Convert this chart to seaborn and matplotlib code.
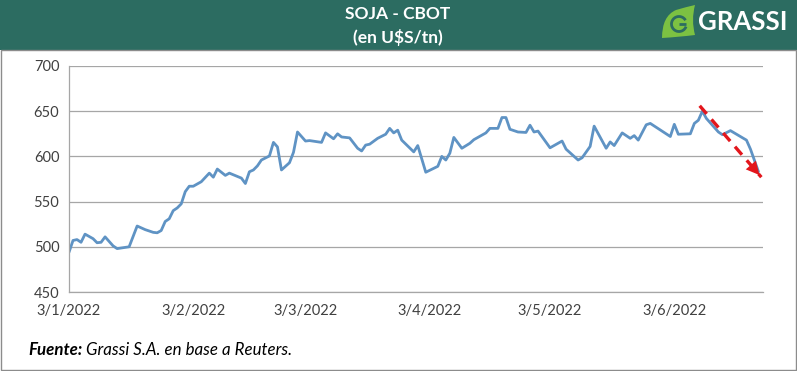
import pandas as pd
import matplotlib.pyplot as plt
from matplotlib.patches import Rectangle, PathPatch, Arc
from matplotlib.path import Path
import seaborn as sns

# precio soja CBOT (U$S/tn)
dates = [
    "2022-01-03", "2022-01-04", "2022-01-05", "2022-01-06", "2022-01-07", "2022-01-09",
    "2022-01-10", "2022-01-11", "2022-01-12", "2022-01-14", "2022-01-15", "2022-01-18",
    "2022-01-20", "2022-01-22", "2022-01-24", "2022-01-25", "2022-01-26", "2022-01-27",
    "2022-01-28", "2022-01-29", "2022-01-30", "2022-01-31",
    "2022-02-01", "2022-02-02", "2022-02-03", "2022-02-05", "2022-02-07", "2022-02-08",
    "2022-02-09", "2022-02-11", "2022-02-12", "2022-02-15", "2022-02-16", "2022-02-17",
    "2022-02-18", "2022-02-19", "2022-02-20", "2022-02-22", "2022-02-23", "2022-02-24",
    "2022-02-25", "2022-02-27", "2022-02-28",
    "2022-03-01", "2022-03-03", "2022-03-04", "2022-03-07", "2022-03-08", "2022-03-10",
    "2022-03-11", "2022-03-12", "2022-03-14", "2022-03-16", "2022-03-17", "2022-03-18",
    "2022-03-19", "2022-03-21", "2022-03-23", "2022-03-24", "2022-03-25", "2022-03-26",
    "2022-03-27", "2022-03-30", "2022-03-31",
    "2022-04-02", "2022-04-05", "2022-04-06", "2022-04-07", "2022-04-08", "2022-04-09",
    "2022-04-11", "2022-04-13", "2022-04-14", "2022-04-17", "2022-04-18", "2022-04-20",
    "2022-04-21", "2022-04-22", "2022-04-23", "2022-04-25", "2022-04-27", "2022-04-28",
    "2022-04-29", "2022-04-30",
    "2022-05-03", "2022-05-06", "2022-05-07", "2022-05-10", "2022-05-11", "2022-05-13",
    "2022-05-14", "2022-05-17", "2022-05-18", "2022-05-19", "2022-05-21", "2022-05-23",
    "2022-05-24", "2022-05-25", "2022-05-27", "2022-05-28",
    "2022-06-02", "2022-06-03", "2022-06-04", "2022-06-07", "2022-06-08", "2022-06-09",
    "2022-06-10", "2022-06-11", "2022-06-14", "2022-06-15", "2022-06-17", "2022-06-21",
    "2022-06-22", "2022-06-24",
]
soja = [
    494, 507, 508, 505, 514, 509, 504.5, 505, 511, 501,
    498, 500, 523, 519, 516, 515.5, 518, 528, 531, 540,
    543, 547.5, 561, 567, 567, 572, 581.5, 577, 586, 579,
    581.5, 576, 570, 583, 585, 589.5, 596, 600.5, 615.5, 610.5,
    585, 593, 604.5, 627, 617, 617.5, 615.5, 626, 619.5, 625,
    621.5, 620.5, 609, 606, 612.5, 613.5, 620, 624.5, 631, 626,
    629, 618, 605, 612, 582.5, 589, 600, 596, 603.5, 621,
    609, 614.5, 618.5, 626, 631, 631, 643, 643, 630, 627,
    626.5, 634.5, 627, 628, 609.5, 617, 608, 596, 598.5, 611,
    633.5, 609, 616, 612, 626, 620, 623, 618, 635, 636.5,
    622, 635.5, 624.5, 625, 636.5, 640, 650, 642, 627, 624,
    628.5, 618, 608, 583,
]
tick_dates = ["2022-01-03", "2022-02-03", "2022-03-03", "2022-04-03", "2022-05-03", "2022-06-03"]
y_ticks = [450, 500, 550, 600, 650, 700]

# flecha de tendencia (fecha, precio)
trend_start = ("2022-06-09 08:00", 656)
trend_end = ("2022-06-24 17:00", 577)

GREEN = "#2c6c61"
LEAF = "#7cc142"
BLUE = "#5f93c4"
RED = "#e3161c"
GRAY = "#a6a6a6"
TXT = "#404040"

df = pd.DataFrame({"fecha": pd.to_datetime(dates), "precio": soja})

sns.set_style("white")
plt.rcParams["font.family"] = ["Lato", "DejaVu Sans"]

W, H = 797, 371
fig = plt.figure(figsize=(W / 100, H / 100), dpi=100)

# fondo: banda verde, marco y textos (coordenadas en pixeles)
bg = fig.add_axes([0, 0, 1, 1])
bg.set_xlim(0, W)
bg.set_ylim(H, 0)
bg.axis("off")
bg.add_patch(Rectangle((0, 0), W, 50, color=GREEN, lw=0))
bg.add_patch(Rectangle((0.5, 50), W - 1.5, H - 51.5, fill=False, ec="#8c8c8c", lw=1))
bg.text(398, 14, "SOJA - CBOT", color="white", fontsize=12.5, fontweight="bold",
        ha="center", va="center")
bg.text(398, 37, "(en U$S/tn)", color="white", fontsize=12.5, fontweight="bold",
        ha="center", va="center")

# logo
leaf = Path(
    [(695, 5), (691, 20), (695, 35), (679, 37), (662, 38), (662, 16), (676, 10), (686, 7), (695, 5)],
    [Path.MOVETO, Path.CURVE3, Path.CURVE3, Path.CURVE3, Path.CURVE3,
     Path.CURVE3, Path.CURVE3, Path.CURVE3, Path.CURVE3],
)
bg.add_patch(PathPatch(leaf, fc=LEAF, ec="none"))
bg.add_patch(Arc((679, 24), 15, 15, theta1=20, theta2=330, color=GREEN, lw=2.0))
bg.plot([679, 686], [24, 24], color=GREEN, lw=2.0, solid_capstyle="butt")
bg.text(743, 22, "GRASSI", color="white", fontsize=18.5, fontweight="bold",
        ha="center", va="center")

src = bg.text(28, 350, "Fuente:", fontsize=12.2, fontweight="bold", fontstyle="italic",
              color="black", va="center")
bg.annotate(" Grassi S.A. en base a Reuters.", xy=(1, 0), xycoords=src, va="bottom",
            fontsize=12.2, fontstyle="italic", color="black")

# grafico principal
ax = fig.add_axes([69 / W, 1 - 292 / H, (763 - 69) / W, (292 - 66) / H])
ax.patch.set_alpha(0)
sns.lineplot(data=df, x="fecha", y="precio", ax=ax, color=BLUE, lw=2.0)

ax.set_ylim(450, 700)
ax.set_xlim(pd.Timestamp("2022-01-03"), pd.Timestamp("2022-06-25 03:00"))
ax.set_yticks(y_ticks)
ticks = pd.to_datetime(tick_dates)
ax.set_xticks(ticks)
ax.set_xticklabels([f"{d.day}/{d.month}/{d.year}" for d in ticks])
ax.set_xlabel("")
ax.set_ylabel("")
ax.grid(axis="y", color=GRAY, lw=0.9)
ax.set_axisbelow(True)
for s in ["top", "right"]:
    ax.spines[s].set_visible(False)
for s in ["left", "bottom"]:
    ax.spines[s].set_color(GRAY)
    ax.spines[s].set_linewidth(0.9)
ax.tick_params(direction="out", length=4, width=0.9, color=GRAY, labelcolor=TXT,
               labelsize=10.5, pad=3)
ax.tick_params(axis="x", pad=5)

# flecha roja punteada
x0, y0 = pd.Timestamp(trend_start[0]), trend_start[1]
x1, y1 = pd.Timestamp(trend_end[0]), trend_end[1]
ax.plot([x0, x1], [y0, y1], color=RED, lw=2.4, dashes=(3.2, 2.2), solid_capstyle="butt")
ax.annotate("", xy=(x1, y1), xytext=(x1 - (x1 - x0) * 0.2, y1 + (y0 - y1) * 0.2),
            arrowprops=dict(arrowstyle="-|>", color=RED, lw=0, mutation_scale=24),
            annotation_clip=False)

fig.savefig("out.png", dpi=100)
